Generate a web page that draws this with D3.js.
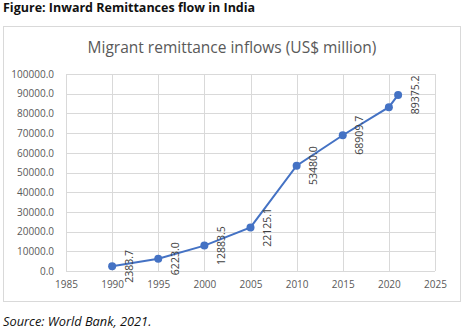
<!DOCTYPE html>
<html><head><meta charset="utf-8">
<script src="https://cdn.jsdelivr.net/npm/d3@7"></script>
<style>body{margin:0;background:#fff}svg{display:block}</style>
</head><body>
<svg id="c" width="462" height="331"></svg>
<script>
const years = [1990, 1995, 2000, 2005, 2010, 2015, 2020, 2021];
const values = [2383.7, 6223.0, 12883.5, 22125.1, 53480.0, 68909.7, 83149.3, 89375.2];
const labels = ["2383.7", "6223.0", "12883.5", "22125.1", "53480.0", "68909.7", "", "89375.2"];
const xTicks = [1985, 1990, 1995, 2000, 2005, 2010, 2015, 2020, 2025];
const yTicks = [0, 10000, 20000, 30000, 40000, 50000, 60000, 70000, 80000, 90000, 100000];

const svg = d3.select("#c");
const font = "'Open Sans', sans-serif";

svg.append("text").attr("x", 3).attr("y", 12).attr("font-family", font)
  .attr("font-weight", "bold").attr("font-size", 12.5).attr("fill", "#111")
  .text("Figure: Inward Remittances flow in India");

svg.append("rect").attr("x", 3.5).attr("y", 26.5).attr("width", 457).attr("height", 275)
  .attr("fill", "#fff").attr("stroke", "#d9d9d9");

svg.append("text").attr("x", 232).attr("y", 53).attr("text-anchor", "middle")
  .attr("font-family", font).attr("font-size", 15.5).attr("fill", "#595959")
  .text("Migrant remittance inflows (US$ million)");

const x = d3.scaleLinear().domain([1985, 2025]).range([66, 435]);
const y = d3.scaleLinear().domain([0, 100000]).range([271, 74]);

const grid = svg.append("g");
grid.selectAll(".gy").data(yTicks).join("line")
  .attr("x1", 66).attr("x2", 435).attr("y1", d => Math.round(y(d)) + 0.5).attr("y2", d => Math.round(y(d)) + 0.5)
  .attr("stroke", "#d9d9d9");
grid.selectAll(".gx").data(xTicks).join("line")
  .attr("y1", 74).attr("y2", 271).attr("x1", d => Math.round(x(d)) + 0.5).attr("x2", d => Math.round(x(d)) + 0.5)
  .attr("stroke", "#d9d9d9");

const yAxis = svg.append("g").attr("transform", "translate(66,0)")
  .call(d3.axisLeft(y).tickValues(yTicks).tickFormat(d3.format(".1f")).tickSize(0).tickPadding(12));
const xAxis = svg.append("g").attr("transform", "translate(0,271)")
  .call(d3.axisBottom(x).tickValues(xTicks).tickFormat(d3.format("d")).tickSize(0).tickPadding(10));
[yAxis, xAxis].forEach(a => {
  a.select(".domain").remove();
  a.selectAll("text").attr("font-family", font).attr("font-size", 10).attr("fill", "#595959");
});

const line = d3.line().x((d, i) => x(years[i])).y(d => y(d));
svg.append("path").datum(values).attr("d", line).attr("fill", "none")
  .attr("stroke", "#4472C4").attr("stroke-width", 2);
svg.selectAll(".pt").data(values).join("circle")
  .attr("cx", (d, i) => x(years[i])).attr("cy", d => y(d)).attr("r", 4)
  .attr("fill", "#4472C4");

svg.selectAll(".lb").data(values).join("text")
  .attr("transform", (d, i) => `translate(${x(years[i]) + 17},${y(d)}) rotate(-90)`)
  .attr("text-anchor", "middle").attr("dy", "0.35em")
  .attr("font-family", font).attr("font-size", 10.5).attr("fill", "#404040")
  .text((d, i) => labels[i]);

svg.append("text").attr("x", 3).attr("y", 326).attr("font-family", font)
  .attr("font-style", "italic").attr("font-size", 12.8).attr("fill", "#111")
  .text("Source: World Bank, 2021.");
</script>
</body></html>
